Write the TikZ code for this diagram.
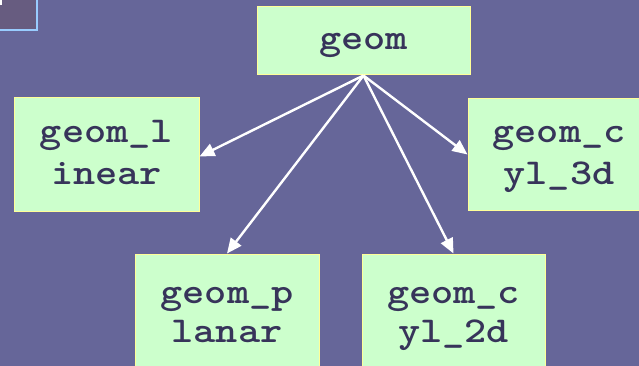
\documentclass[tikz,border=0pt]{standalone}
\usepackage{fontspec}
\usetikzlibrary{arrows.meta}
\newfontfamily\codefont[FakeStretch=1.16]{lmmonolt10-bold.otf}
\definecolor{bgc}{RGB}{102,102,153}
\definecolor{boxfill}{RGB}{204,255,204}
\definecolor{boxline}{RGB}{255,255,153}
\definecolor{txtc}{RGB}{55,52,90}
\definecolor{cornerfill}{RGB}{103,92,128}
\definecolor{cornerline}{RGB}{153,204,255}
\tikzset{
  box/.style={draw=boxline, line width=1pt, fill=boxfill, inner sep=0pt},
  txt/.style={anchor=base, inner sep=0pt, text=txtc, font=\codefont\fontsize{36.4}{40}\selectfont},
  link/.style={draw=white, line width=2.4pt, -{Triangle[length=15pt,width=13pt]}, shorten >=0pt}
}
\begin{document}
\begin{tikzpicture}[x=1pt,y=-1pt]
\fill[bgc] (0,0) rectangle (639,366);
\useasboundingbox (0,0) rectangle (639,366);
% corner decoration
\draw[fill=cornerfill, draw=cornerline, line width=2pt] (-2,-2) rectangle (37,30);
\fill[white] (0,0) rectangle (2,5);
% boxes
\node[box, minimum width=213pt, minimum height=68pt] (geom) at (363.5,41) {};
\node[box, minimum width=185pt, minimum height=113pt] (lin) at (106.5,154.5) {};
\node[box, minimum width=182pt, minimum height=111pt] (cyl3) at (559,154.5) {};
\node[box, minimum width=184pt, minimum height=130pt] (plan) at (227,319) {};
\node[box, minimum width=183pt, minimum height=130pt] (cyl2) at (453.5,319) {};
% texts
\node[txt] (tgeom) at (363.5,50) {geom};
\node[txt] (tlin1) at (106.5,143) {geom\_l};
\node[txt] (tlin2) at (106.5,185) {inear};
\node[txt] (tcyl31) at (559,143) {geom\_c};
\node[txt] (tcyl32) at (559,185) {yl\_3d};
\node[txt] (tplan1) at (227,303) {geom\_p};
\node[txt] (tplan2) at (227,342) {lanar};
\node[txt] (tcyl21) at (453.5,303) {geom\_c};
\node[txt] (tcyl22) at (453.5,342) {yl\_2d};
% connectors
\draw[link] (geom.south) -- ([yshift=-2pt]lin.east);
\draw[link] (geom.south) -- (plan.north);
\draw[link] (geom.south) -- (cyl2.north);
\draw[link] (geom.south) -- (cyl3.west);
\end{tikzpicture}
\end{document}
